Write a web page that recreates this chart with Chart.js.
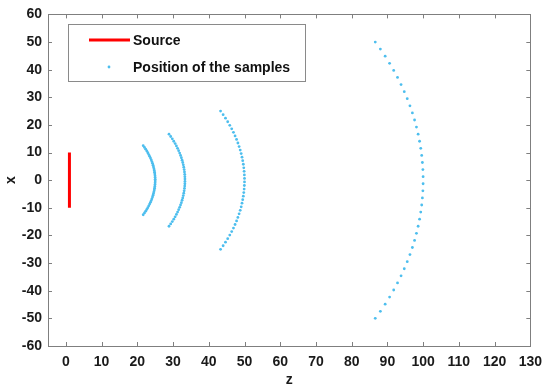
<!DOCTYPE html>
<html>
<head>
<meta charset="utf-8">
<script src="https://cdn.jsdelivr.net/npm/chart.js@4.4.1/dist/chart.umd.min.js"></script>
<style>
  html, body { margin: 0; padding: 0; background: #fff; }
  #wrap { width: 550px; height: 390px; }
</style>
</head>
<body>
<div id="wrap"><canvas id="waveChart"></canvas></div>
<script>
// source segment (z, x)
var sourceZ = [1, 1];
var sourceX = [-10, 10];

// sample positions (z, x)
var arc1Z = [21.65, 22.01, 22.34, 22.65, 22.94, 23.21, 23.45, 23.68, 23.89, 24.08, 24.25, 24.40, 24.53, 24.65, 24.75, 24.83, 24.90, 24.95, 24.98, 25.00,
             25.00, 24.98, 24.95, 24.90, 24.83, 24.75, 24.65, 24.53, 24.40, 24.25, 24.08, 23.89, 23.68, 23.45, 23.21, 22.94, 22.65, 22.34, 22.01, 21.65];
var arc1X = [12.5, 11.86, 11.22, 10.58, 9.94, 9.29, 8.65, 8.01, 7.37, 6.73, 6.09, 5.45, 4.81, 4.17, 3.53, 2.88, 2.24, 1.60, 0.96, 0.32,
             -0.32, -0.96, -1.60, -2.24, -2.88, -3.53, -4.17, -4.81, -5.45, -6.09, -6.73, -7.37, -8.01, -8.65, -9.29, -9.94, -10.58, -11.22, -11.86, -12.5];

var arc2Z = [28.87, 29.34, 29.79, 30.20, 30.59, 30.94, 31.27, 31.57, 31.85, 32.10, 32.33, 32.53, 32.71, 32.87, 33.00, 33.11, 33.20, 33.27, 33.31, 33.33,
             33.33, 33.31, 33.27, 33.20, 33.11, 33.00, 32.87, 32.71, 32.53, 32.33, 32.10, 31.85, 31.57, 31.27, 30.94, 30.59, 30.20, 29.79, 29.34, 28.87];
var arc2X = [16.67, 15.81, 14.96, 14.10, 13.25, 12.39, 11.54, 10.68, 9.83, 8.97, 8.12, 7.26, 6.41, 5.56, 4.70, 3.85, 2.99, 2.14, 1.28, 0.43,
             -0.43, -1.28, -2.14, -2.99, -3.85, -4.70, -5.56, -6.41, -7.26, -8.12, -8.97, -9.83, -10.68, -11.54, -12.39, -13.25, -14.10, -14.96, -15.81, -16.67];

var arc3Z = [43.30, 44.02, 44.68, 45.30, 45.88, 46.42, 46.91, 47.36, 47.78, 48.15, 48.49, 48.80, 49.07, 49.30, 49.50, 49.67, 49.80, 49.90, 49.96, 50.00,
             50.00, 49.96, 49.90, 49.80, 49.67, 49.50, 49.30, 49.07, 48.80, 48.49, 48.15, 47.78, 47.36, 46.91, 46.42, 45.88, 45.30, 44.68, 44.02, 43.30];
var arc3X = [25.00, 23.72, 22.44, 21.15, 19.87, 18.59, 17.31, 16.03, 14.74, 13.46, 12.18, 10.90, 9.62, 8.33, 7.05, 5.77, 4.49, 3.21, 1.92, 0.64,
             -0.64, -1.92, -3.21, -4.49, -5.77, -7.05, -8.33, -9.62, -10.90, -12.18, -13.46, -14.74, -16.03, -17.31, -18.59, -19.87, -21.15, -22.44, -23.72, -25.00];

var arc4Z = [86.60, 88.03, 89.37, 90.61, 91.76, 92.83, 93.82, 94.72, 95.55, 96.31, 96.99, 97.60, 98.13, 98.60, 99.00, 99.33, 99.60, 99.79, 99.93, 99.99,
             99.99, 99.93, 99.79, 99.60, 99.33, 99.00, 98.60, 98.13, 97.60, 96.99, 96.31, 95.55, 94.72, 93.82, 92.83, 91.76, 90.61, 89.37, 88.03, 86.60];
var arc4X = [50.00, 47.44, 44.87, 42.31, 39.74, 37.18, 34.62, 32.05, 29.49, 26.92, 24.36, 21.79, 19.23, 16.67, 14.10, 11.54, 8.97, 6.41, 3.85, 1.28,
             -1.28, -3.85, -6.41, -8.97, -11.54, -14.10, -16.67, -19.23, -21.79, -24.36, -26.92, -29.49, -32.05, -34.62, -37.18, -39.74, -42.31, -44.87, -47.44, -50.00];

var zTicks = [0, 10, 20, 30, 40, 50, 60, 70, 80, 90, 100, 110, 120, 130];
var xTicks = [-60, -50, -40, -30, -20, -10, 0, 10, 20, 30, 40, 50, 60];

var legendLabels = ['Source', 'Position of the samples'];

var red = '#ff0000';
var blue = '#4dbeee';
var axisGray = '#7f7f7f';
var labelFont = { family: 'Arial, "Liberation Sans", sans-serif', size: 14, weight: 'bold' };

function toPoints(zs, xs) {
    return zs.map(function(z, i) { return { x: z, y: xs[i] }; });
}

function sampleSet(zs, xs) {
    return {
        data: toPoints(zs, xs),
        showLine: false,
        pointRadius: 1.4,
        pointBackgroundColor: blue,
        pointBorderWidth: 0
    };
}

// box around the axes, inward ticks and the legend
var framePlugin = {
    id: 'frame',
    afterDraw: function(chart) {
        var c = chart.ctx, a = chart.chartArea;
        var sx = chart.scales.x, sy = chart.scales.y;
        c.save();
        c.strokeStyle = axisGray;
        c.lineWidth = 1;
        c.strokeRect(Math.round(a.left) + 0.5, Math.round(a.top) + 0.5,
                     Math.round(a.right - a.left), Math.round(a.bottom - a.top));
        c.beginPath();
        zTicks.forEach(function(t) {
            var px = Math.round(sx.getPixelForValue(t)) + 0.5;
            c.moveTo(px, a.bottom); c.lineTo(px, a.bottom - 4);
            c.moveTo(px, a.top); c.lineTo(px, a.top + 4);
        });
        xTicks.forEach(function(t) {
            var py = Math.round(sy.getPixelForValue(t)) + 0.5;
            c.moveTo(a.left, py); c.lineTo(a.left + 4, py);
            c.moveTo(a.right, py); c.lineTo(a.right - 4, py);
        });
        c.stroke();

        // legend
        var lx = 68, ly = 24, lw = 237, lh = 57;
        c.fillStyle = '#fff';
        c.fillRect(lx, ly, lw, lh);
        c.strokeStyle = '#8a8a8a';
        c.strokeRect(lx + 0.5, ly + 0.5, lw, lh);
        c.strokeStyle = red;
        c.lineWidth = 3;
        c.beginPath();
        c.moveTo(89, 40); c.lineTo(130, 40);
        c.stroke();
        c.fillStyle = blue;
        c.beginPath();
        c.arc(109, 67, 1.4, 0, Math.PI * 2);
        c.fill();
        c.fillStyle = '#111';
        c.font = 'bold 14px Arial, "Liberation Sans", sans-serif';
        c.textBaseline = 'middle';
        c.fillText(legendLabels[0], 133, 41);
        c.fillText(legendLabels[1], 133, 68);
        c.restore();
    }
};

var ctx = document.getElementById('waveChart').getContext('2d');
var waveChart = new Chart(ctx, {
    type: 'scatter',
    data: {
        datasets: [
            {
                data: toPoints(sourceZ, sourceX),
                showLine: true,
                borderColor: red,
                borderWidth: 3,
                pointRadius: 0
            },
            sampleSet(arc1Z, arc1X),
            sampleSet(arc2Z, arc2X),
            sampleSet(arc3Z, arc3X),
            sampleSet(arc4Z, arc4X)
        ]
    },
    options: {
        responsive: true,
        maintainAspectRatio: false,
        animation: false,
        layout: { padding: { left: 3, right: 16, top: 12, bottom: 0 } },
        plugins: {
            legend: { display: false },
            tooltip: { enabled: false }
        },
        scales: {
            x: {
                type: 'linear',
                min: -5,
                max: 130,
                afterBuildTicks: function(scale) {
                    scale.ticks = zTicks.map(function(v) { return { value: v }; });
                },
                afterFit: function(scale) { scale.height = 44; },
                grid: { display: false, drawTicks: false },
                border: { display: false },
                ticks: { color: '#1a1a1a', font: labelFont, padding: 8, maxRotation: 0 },
                title: { display: true, text: 'z', color: '#1a1a1a', font: labelFont, padding: { top: 0, bottom: 1 } }
            },
            y: {
                type: 'linear',
                min: -60,
                max: 60,
                afterBuildTicks: function(scale) {
                    scale.ticks = xTicks.map(function(v) { return { value: v }; });
                },
                afterFit: function(scale) { scale.width = 45; },
                grid: { display: false, drawTicks: false },
                border: { display: false },
                ticks: { color: '#1a1a1a', font: labelFont, padding: 6 },
                title: { display: true, text: 'x', color: '#1a1a1a', font: labelFont, padding: { top: 0, bottom: 0 } }
            }
        }
    },
    plugins: [framePlugin]
});
</script>
</body>
</html>
